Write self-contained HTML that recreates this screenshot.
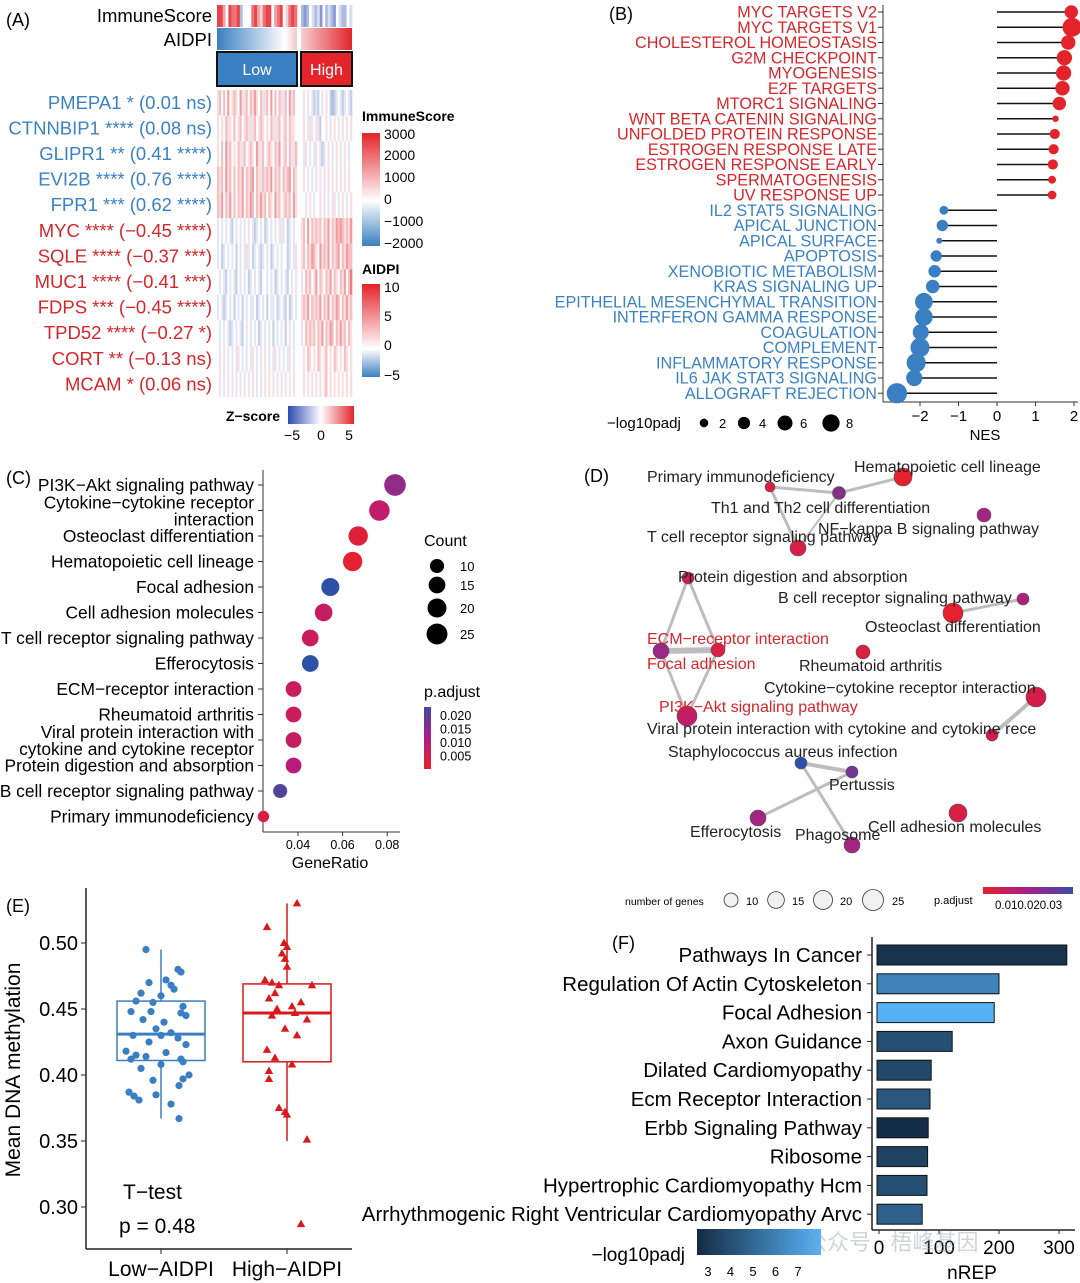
<!DOCTYPE html>
<html><head><meta charset="utf-8"><style>
html,body{margin:0;padding:0;background:#fff;}
svg{display:block;font-family:"Liberation Sans","Noto Sans CJK SC",sans-serif;}
</style></head><body>
<svg id="fig" width="1080" height="1283" viewBox="0 0 1080 1283" xmlns="http://www.w3.org/2000/svg">
<defs>
<linearGradient id="gAidpiLow" x1="0" x2="1"><stop offset="0" stop-color="#3a7fc1"/><stop offset="0.85" stop-color="#ffffff"/><stop offset="1" stop-color="#f2c6c6"/></linearGradient>
<linearGradient id="gAidpiHigh" x1="0" x2="1"><stop offset="0" stop-color="#f6d0d0"/><stop offset="1" stop-color="#e3242b"/></linearGradient>
<linearGradient id="gImm" x1="0" y1="1" x2="0" y2="0"><stop offset="0" stop-color="#3a7fc1"/><stop offset="0.4" stop-color="#ffffff"/><stop offset="1" stop-color="#e3242b"/></linearGradient>
<linearGradient id="gZ" x1="0" x2="1"><stop offset="0" stop-color="#2a4ab0"/><stop offset="0.5" stop-color="#ffffff"/><stop offset="1" stop-color="#e3242b"/></linearGradient>
<linearGradient id="gPadjC" x1="0" y1="0" x2="0" y2="1"><stop offset="0" stop-color="#3f4aa8"/><stop offset="0.45" stop-color="#a4208a"/><stop offset="1" stop-color="#e8202a"/></linearGradient>
<linearGradient id="gPadjD" x1="0" x2="1"><stop offset="0" stop-color="#e8202a"/><stop offset="0.5" stop-color="#a4208a"/><stop offset="1" stop-color="#3f4aa8"/></linearGradient>
<linearGradient id="gF" x1="0" x2="1"><stop offset="0" stop-color="#132b43"/><stop offset="1" stop-color="#56b1f7"/></linearGradient>
</defs>
</svg>
<script>
// ---------- Panel A data ----------
const genesA = ["PMEPA1 * (0.01 ns)","CTNNBIP1 **** (0.08 ns)","GLIPR1 ** (0.41 ****)","EVI2B **** (0.76 ****)","FPR1 *** (0.62 ****)","MYC **** (\u22120.45 ****)","SQLE **** (\u22120.37 ***)","MUC1 **** (\u22120.41 ***)","FDPS *** (\u22120.45 ****)","TPD52 **** (\u22120.27 *)","CORT ** (\u22120.13 ns)","MCAM * (0.06 ns)"];
const geneGroupA = [0,0,0,0,0,1,1,1,1,1,1,1];
const heatLow = ["564647456547356465754635647464653647564","545465546456456535645654546535645646554","546475645465364565475364565465745646356","656475646465746567465365657465646567465","657465746465746576465756465475645656475","343434324343434543234342343434353423434","342343434243435342343234342343434423435","434324343243434234343244343423434324343","343234342434243433423434243342343242343","434343234343243434342343434243434243434","434543434354343435434345434354343435434","454345434543454345434543454345434543454"];
const heatHigh = ["4345432324345421234323432","4543534352445434543454345","4354343543234543454345434","4543434543454345434543454","4434543445434543543454345","5647465656465746576765657","5646576547565746567465766","5465645746546574654657468","5657465657465746576465756","5465656465746576465756465","4546545465456454654546545","4545454545456454545454545"];
const immLow = "8864877824447865788467845787";
const immHigh = "2124323142321432243";
// ---------- Panel B data ----------
const pathwaysB = ["MYC TARGETS V2","MYC TARGETS V1","CHOLESTEROL HOMEOSTASIS","G2M CHECKPOINT","MYOGENESIS","E2F TARGETS","MTORC1 SIGNALING","WNT BETA CATENIN SIGNALING","UNFOLDED PROTEIN RESPONSE","ESTROGEN RESPONSE LATE","ESTROGEN RESPONSE EARLY","SPERMATOGENESIS","UV RESPONSE UP","IL2 STAT5 SIGNALING","APICAL JUNCTION","APICAL SURFACE","APOPTOSIS","XENOBIOTIC METABOLISM","KRAS SIGNALING UP","EPITHELIAL MESENCHYMAL TRANSITION","INTERFERON GAMMA RESPONSE","COAGULATION","COMPLEMENT","INFLAMMATORY RESPONSE","IL6 JAK STAT3 SIGNALING","ALLOGRAFT REJECTION"];
const nesB = [1.93,1.95,1.85,1.75,1.73,1.7,1.62,1.52,1.5,1.47,1.45,1.43,1.43,-1.38,-1.42,-1.5,-1.58,-1.62,-1.67,-1.9,-1.9,-1.98,-2.0,-2.1,-2.15,-2.6];
const padjB = [3.5,7,4,4.5,4.5,4,3.5,0.8,2,2,2,1.2,1.5,1.5,2.5,0.7,2.5,3,3.5,6,6,5,7,7,5,8];
const nesTicks = [-2,-1,0,1,2];
const legB = [2,4,6,8];
// ---------- Panel C data ----------
const termsC = ["PI3K\u2212Akt signaling pathway",["Cytokine\u2212cytokine receptor","interaction"],"Osteoclast differentiation","Hematopoietic cell lineage","Focal adhesion","Cell adhesion molecules","T cell receptor signaling pathway","Efferocytosis","ECM\u2212receptor interaction","Rheumatoid arthritis",["Viral protein interaction with","cytokine and cytokine receptor"],"Protein digestion and absorption","B cell receptor signaling pathway","Primary immunodeficiency"];
const ratioC = [0.0835,0.0765,0.067,0.0645,0.0545,0.0515,0.0455,0.0455,0.038,0.038,0.038,0.038,0.032,0.0245];
const countC = [27,24,21,21,18,17,15,15,13,13,13,13,10,6];
const padjC = [0.014,0.009,0.002,0.001,0.022,0.008,0.007,0.022,0.007,0.007,0.008,0.011,0.019,0.004];
const ratioTicks = [0.04,0.06,0.08];
const countLeg = [10,15,20,25];
const padjLegC = ["0.020","0.015","0.010","0.005"];
// ---------- Panel D data ----------
const nodesD = [
 ["Primary immunodeficiency",770,487,5,0.004],["Th1 and Th2 cell differentiation",839,493,6.5,0.02],["Hematopoietic cell lineage",903,477,9,0.001],
 ["T cell receptor signaling pathway",798,548,8,0.005],["NF\u2212kappa B signaling pathway",984,515,7,0.017],["Protein digestion and absorption",688,578,6,0.009],
 ["B cell receptor signaling pathway",1023,599,6,0.016],["Osteoclast differentiation",953,613,10,0.001],["ECM\u2212receptor interaction",718,650,7,0.005],
 ["Focal adhesion",661,651,8,0.018],["Rheumatoid arthritis",863,652,7,0.004],["PI3K\u2212Akt signaling pathway",687,716,10,0.012],
 ["Cytokine\u2212cytokine receptor interaction",1036,697,10,0.006],["Viral protein interaction",992,735,6,0.006],["Staphylococcus aureus infection",801,763,6,0.03],
 ["Pertussis",852,772,6,0.022],["Efferocytosis",758,818,8,0.017],["Phagosome",852,845,8,0.017],["Cell adhesion molecules",958,813,9,0.005]];
const edgesD = [[0,1,3],[0,3,3],[1,2,3],[1,3,2],[5,8,3],[5,9,3],[8,9,6],[9,11,3],[8,11,3],[6,7,3],[12,13,4],[14,15,4],[14,17,3],[15,16,3]];
const labelsD = [["Primary immunodeficiency",647,476,0],["Hematopoietic cell lineage",854,466,0],["Th1 and Th2 cell differentiation",711,507,0],["NF\u2212kappa B signaling pathway",818,528,0],["T cell receptor signaling pathway",647,536,0],["Protein digestion and absorption",678,576,0],["B cell receptor signaling pathway",778,597,0],["Osteoclast differentiation",865,626,0],["ECM\u2212receptor interaction",647,638,1],["Focal adhesion",647,663,1],["Rheumatoid arthritis",799,665,0],["Cytokine\u2212cytokine receptor interaction",764,687,0],["PI3K\u2212Akt signaling pathway",659,706,1],["Viral protein interaction with cytokine and cytokine rece",647,728,0],["Staphylococcus aureus infection",668,751,0],["Pertussis",829,784,0],["Efferocytosis",690,831,0],["Phagosome",795,834,0],["Cell adhesion molecules",868,826,0]];
const genesLegD = [10,15,20,25];
// ---------- Panel E data ----------
const lowVals = [0.495,0.480,0.478,0.470,0.472,0.468,0.462,0.460,0.465,0.456,0.455,0.452,0.448,0.448,0.447,0.445,0.442,0.440,0.435,0.432,0.430,0.430,0.428,0.425,0.423,0.418,0.415,0.414,0.417,0.412,0.412,0.410,0.408,0.405,0.400,0.397,0.396,0.392,0.387,0.384,0.385,0.381,0.378,0.367];
const lowJit = [-15,17,20,-12,5,10,-20,0,13,-25,-8,22,-30,-10,20,25,-18,3,-5,10,0,-28,17,-12,25,-35,-25,-15,5,20,-30,22,0,-20,28,22,-8,18,-32,-27,-5,-22,10,18];
const highVals = [0.530,0.512,0.500,0.497,0.492,0.488,0.482,0.472,0.470,0.468,0.468,0.462,0.458,0.455,0.452,0.450,0.445,0.447,0.442,0.435,0.430,0.419,0.413,0.408,0.403,0.397,0.375,0.372,0.370,0.351,0.287];
const highJit = [10,-20,-3,0,-5,-2,0,-22,-15,-8,25,-12,-18,14,5,-10,-15,8,20,-2,10,-20,-12,5,-18,-18,-8,-2,0,20,14];
const boxLow = [0.367,0.411,0.431,0.456,0.495];
const boxHigh = [0.350,0.410,0.447,0.469,0.530];
const yTicksE = [0.30,0.35,0.40,0.45,0.50];
// ---------- Panel F data ----------
const termsF = ["Pathways In Cancer","Regulation Of Actin Cytoskeleton","Focal Adhesion","Axon Guidance","Dilated Cardiomyopathy","Ecm Receptor Interaction","Erbb Signaling Pathway","Ribosome","Hypertrophic Cardiomyopathy Hcm","Arrhythmogenic Right Ventricular Cardiomyopathy Arvc"];
const nrepF = [313,200,192,122,87,85,82,81,80,72];
const logpF = [3.2,5.6,7.0,4.1,3.9,4.3,3.1,3.7,4.1,4.6];
const xTicksF = [0,100,200,300];
const legTicksF = [3,4,5,6,7];

// ---------- helpers ----------
const NS="http://www.w3.org/2000/svg";
const svg=document.getElementById('fig');
function mk(tag,attrs,parent,txt){const e=document.createElementNS(NS,tag);for(const k in attrs)e.setAttribute(k,attrs[k]);if(txt!==undefined)e.textContent=txt;(parent||svg).appendChild(e);return e;}
function grp(name){const g=mk('g',{});


return g;}
function hex(c){return [parseInt(c.slice(1,3),16),parseInt(c.slice(3,5),16),parseInt(c.slice(5,7),16)];}
function mix(a,b,t){const A=hex(a),B=hex(b);return 'rgb('+A.map((v,i)=>Math.round(v+(B[i]-v)*t)).join(',')+')';}
function zcol(d){const z=(d-4)/4;return z>=0?mix('#ffffff','#e3242b',z*0.85):mix('#ffffff','#2a4ab0',-z*0.75);}
function hcol(d){const z=(d-4)/4;return z>=0?mix('#ffffff','#e3242b',z*0.6):mix('#ffffff','#3050b0',-z*0.55);}
function padjCol(p){const t=Math.min(1,p/0.022);return t<0.5?mix('#e8202a','#b81c78',t*2):mix('#b81c78','#2c52a8',(t-0.5)*2);}
const RED='#d7262b',BLUE='#3b82c4';

// ================= Panel A =================
(function(){
const g=grp('panel-a-heatmap');
const t=mk('text',{x:6,y:26,'font-size':18},g,'(A)');

mk('text',{x:212,y:22,'font-size':18.5,'text-anchor':'end'},g,'ImmuneScore');
mk('text',{x:212,y:46,'font-size':18.5,'text-anchor':'end'},g,'AIDPI');
const L0=217,L1=297,H0=301,H1=352;
function strip(str,x0,x1,y,h,fn,name){const w=(x1-x0)/str.length;for(let i=0;i<str.length;i++){const r=mk('rect',{x:x0+i*w,y:y,width:w+0.3,height:h,fill:fn(+str[i])},g);

}}
strip(immLow,L0,L1,5,22,zcol,'immunescore-cell');
strip(immHigh,H0,H1,5,22,zcol,'immunescore-cell');
mk('rect',{x:L0,y:28,width:L1-L0,height:22,fill:'url(#gAidpiLow)'},g);
mk('rect',{x:H0,y:28,width:H1-H0,height:22,fill:'url(#gAidpiHigh)'},g);
const bl=mk('rect',{x:L0,y:52,width:L1-L0,height:34,fill:'#3a7fc1',stroke:'#111','stroke-width':2},g);

const bh=mk('rect',{x:H0,y:52,width:H1-H0,height:34,fill:'#e3242b',stroke:'#111','stroke-width':2},g);

mk('text',{x:(L0+L1)/2,y:75,'font-size':16,fill:'#fff','text-anchor':'middle'},g,'Low');
mk('text',{x:(H0+H1)/2,y:75,'font-size':16,fill:'#fff','text-anchor':'middle'},g,'High');
const top=90,rh=25.6;
genesA.forEach((gn,i)=>{
 strip(heatLow[i],L0,L1,top+i*rh,rh,hcol,'heatmap-cell');
 strip(heatHigh[i],H0,H1,top+i*rh,rh,hcol,'heatmap-cell');
 const lt=mk('text',{x:212,y:top+i*rh+rh/2+6,'font-size':18.5,'text-anchor':'end',fill:geneGroupA[i]?RED:BLUE},g,gn);
 
});
mk('text',{x:362,y:121,'font-size':14,'font-weight':'bold'},g,'ImmuneScore');
mk('rect',{x:362,y:133,width:18,height:113,fill:'url(#gImm)'},g);
[['3000',134],['2000',155],['1000',177],['0',199],['\u22121000',221],['\u22122000',243]].forEach(a=>mk('text',{x:384,y:a[1]+5,'font-size':14},g,a[0]));
mk('text',{x:362,y:274,'font-size':14,'font-weight':'bold'},g,'AIDPI');
const ag=mk('linearGradient',{id:'gA2',x1:0,y1:1,x2:0,y2:0},svg.querySelector('defs'));
mk('stop',{offset:0,'stop-color':'#3a7fc1'},ag);mk('stop',{offset:0.3,'stop-color':'#ffffff'},ag);mk('stop',{offset:1,'stop-color':'#e3242b'},ag);
mk('rect',{x:362,y:284,width:18,height:93,fill:'url(#gA2)'},g);
[['10',287],['5',316],['0',345],['\u22125',375]].forEach(a=>mk('text',{x:384,y:a[1]+5,'font-size':14},g,a[0]));
mk('text',{x:280,y:421,'font-size':14,'font-weight':'bold','text-anchor':'end'},g,'Z\u2212score');
mk('rect',{x:288,y:406,width:66,height:18,fill:'url(#gZ)'},g);
[['\u22125',292],['0',321],['5',349]].forEach(a=>mk('text',{x:a[1],y:440,'font-size':14,'text-anchor':'middle'},g,a[0]));
})();

// ================= Panel B =================
(function(){
const g=grp('panel-b-lollipop');
mk('text',{x:609,y:20,'font-size':18},g,'(B)');
const x=v=>997+v*38.5, y0=12, dy=15.25;
const y=i=>y0+i*dy;
mk('line',{x1:883,y1:5,x2:883,y2:402,stroke:'#333'},g);
mk('line',{x1:883,y1:402,x2:1078,y2:402,stroke:'#333'},g);
pathwaysB.forEach((p,i)=>{
 const c=i<13?RED:BLUE;
 const lt=mk('text',{x:877,y:y(i)+5.5,'font-size':16.2,'text-anchor':'end',fill:c},g,p);
 
 mk('line',{x1:878,x2:883,y1:y(i),y2:y(i),stroke:'#333'},g);
 const ln=mk('line',{x1:x(0),x2:x(nesB[i]),y1:y(i),y2:y(i),stroke:'#111','stroke-width':1.5},g);
 
 const d=mk('circle',{cx:x(nesB[i]),cy:y(i),r:3.6*Math.sqrt(padjB[i]),fill:c==RED?'#e3242b':'#3a7fc1'},g);
 
});
nesTicks.forEach(t=>{mk('line',{x1:x(t),x2:x(t),y1:402,y2:406,stroke:'#333'},g);mk('text',{x:x(t),y:421,'font-size':15,'text-anchor':'middle'},g,t<0?'\u2212'+(-t):t);});
mk('text',{x:985,y:440,'font-size':15,'text-anchor':'middle'},g,'NES');
mk('text',{x:607,y:428,'font-size':15},g,'\u2212log10padj');
const lx=[704,744,785,831];
legB.forEach((v,i)=>{mk('circle',{cx:lx[i],cy:423,r:3.6*Math.sqrt(v)*0.85,fill:'#000'},g);mk('text',{x:lx[i]+15,y:428,'font-size':13},g,v);});
})();

// ================= Panel C =================
(function(){
const g=grp('panel-c-dotplot');
mk('text',{x:6,y:484,'font-size':18},g,'(C)');
const x=v=>298+(v-0.04)*2230, y=i=>485+i*25.5;
mk('line',{x1:263,y1:470,x2:263,y2:832,stroke:'#333'},g);
mk('line',{x1:263,y1:832,x2:400,y2:832,stroke:'#333'},g);
termsC.forEach((t,i)=>{
 mk('line',{x1:258,x2:263,y1:y(i),y2:y(i),stroke:'#333'},g);
 if(Array.isArray(t)){mk('text',{x:254,y:y(i)-2,'font-size':17.4,'text-anchor':'end'},g,t[0]);mk('text',{x:254,y:y(i)+15,'font-size':17.4,'text-anchor':'end'},g,t[1]);}
 else{const lt=mk('text',{x:254,y:y(i)+6,'font-size':17.4,'text-anchor':'end'},g,t);
 }
 const d=mk('circle',{cx:x(ratioC[i]),cy:y(i),r:1.2+1.85*Math.sqrt(countC[i]),fill:padjCol(padjC[i])},g);
 
});
ratioTicks.forEach(t=>{mk('line',{x1:x(t),x2:x(t),y1:832,y2:836,stroke:'#333'},g);mk('text',{x:x(t),y:849,'font-size':12.5,'text-anchor':'middle'},g,t.toFixed(2));});
mk('text',{x:330,y:868,'font-size':16,'text-anchor':'middle'},g,'GeneRatio');
mk('text',{x:424,y:546,'font-size':16},g,'Count');
const ly=[566,585,608,634];
countLeg.forEach((c,i)=>{mk('circle',{cx:437,cy:ly[i],r:1.2+1.85*Math.sqrt(c),fill:'#000'},g);mk('text',{x:460,y:ly[i]+5,'font-size':13},g,c);});
mk('text',{x:424,y:697,'font-size':16},g,'p.adjust');
mk('rect',{x:424,y:707,width:7,height:62,fill:'url(#gPadjC)'},g);
padjLegC.forEach((p,i)=>mk('text',{x:440,y:720+i*13.5,'font-size':12.5},g,p));
})();

// ================= Panel D =================
(function(){
const g=grp('panel-d-network');
mk('text',{x:584,y:482,'font-size':18},g,'(D)');
edgesD.forEach(e=>{const a=nodesD[e[0]],b=nodesD[e[1]];const l=mk('line',{x1:a[1],y1:a[2],x2:b[1],y2:b[2],stroke:'#bdbdbd','stroke-width':e[2]},g);
});
nodesD.forEach(n=>{const c=mk('circle',{cx:n[1],cy:n[2],r:n[3],fill:padjCol(n[4]*0.75),stroke:'#555','stroke-width':0.6},g);
});
labelsD.forEach(l=>{const t=mk('text',{x:l[1],y:l[2]+6,'font-size':16,fill:l[3]?RED:'#222'},g,l[0]);
});
mk('rect',{x:1056,y:715,width:30,height:25,fill:'#fff'},g);
mk('text',{x:625,y:905,'font-size':10.5},g,'number of genes');
const cx=[731,776,823,873],lx=[746,792,840,892];
genesLegD.forEach((v,i)=>{mk('circle',{cx:cx[i],cy:900,r:1+1.9*Math.sqrt(v),fill:'#f0f0f0',stroke:'#333','stroke-width':0.8},g);mk('text',{x:lx[i],y:905,'font-size':11},g,v);});
mk('text',{x:934,y:904,'font-size':11},g,'p.adjust');
mk('rect',{x:983,y:887,width:90,height:7,fill:'url(#gPadjD)'},g);
mk('text',{x:995,y:909,'font-size':11.5},g,'0.010.020.03');
})();

// ================= Panel E =================
(function(){
const g=grp('panel-e-boxplot');
mk('text',{x:6,y:912,'font-size':18},g,'(E)');
const y=v=>943+(0.50-v)*1320;
mk('line',{x1:86,y1:888,x2:86,y2:1249,stroke:'#222','stroke-width':1.5},g);
mk('line',{x1:86,y1:1249,x2:352,y2:1249,stroke:'#222','stroke-width':1.5},g);
yTicksE.forEach(t=>{mk('line',{x1:81,x2:86,y1:y(t),y2:y(t),stroke:'#222'},g);mk('text',{x:78,y:y(t)+7,'font-size':20,'text-anchor':'end'},g,t.toFixed(2));});
const yt=mk('text',{x:20,y:1070,'font-size':21,'text-anchor':'middle',transform:'rotate(-90 20 1070)'},g,'Mean DNA methylation');

function box(b,cx,col,name){
 const bg=grp(name);g.appendChild(bg);
 mk('line',{x1:cx,x2:cx,y1:y(b[4]),y2:y(b[3]),stroke:col,'stroke-width':1.5},bg);
 mk('line',{x1:cx,x2:cx,y1:y(b[1]),y2:y(b[0]),stroke:col,'stroke-width':1.5},bg);
 mk('rect',{x:cx-44,y:y(b[3]),width:88,height:y(b[1])-y(b[3]),fill:'none',stroke:col,'stroke-width':1.5},bg);
 mk('line',{x1:cx-44,x2:cx+44,y1:y(b[2]),y2:y(b[2]),stroke:col,'stroke-width':3},bg);
}
box(boxLow,161,'#3a7fc1','box-low');
box(boxHigh,287,'#d7191c','box-high');
lowVals.forEach((v,i)=>{const c=mk('circle',{cx:161+lowJit[i],cy:y(v),r:3.6,fill:'#3a7fc1'},g);
});
highVals.forEach((v,i)=>{const X=287+highJit[i],Y=y(v);const p=mk('polygon',{points:`${X},${Y-4.5} ${X-4.2},${Y+3} ${X+4.2},${Y+3}`,fill:'#d7191c'},g);
});
mk('line',{x1:161,x2:161,y1:1249,y2:1254,stroke:'#222'},g);mk('line',{x1:287,x2:287,y1:1249,y2:1254,stroke:'#222'},g);
mk('text',{x:161,y:1276,'font-size':21,'text-anchor':'middle'},g,'Low\u2212AIDPI');
mk('text',{x:287,y:1276,'font-size':21,'text-anchor':'middle'},g,'High\u2212AIDPI');
mk('text',{x:123,y:1199,'font-size':21},g,'T\u2212test');
mk('text',{x:119,y:1233,'font-size':21},g,'p = 0.48');
})();

// ================= Panel F =================
(function(){
const g=grp('panel-f-barplot');
mk('text',{x:612,y:949,'font-size':18},g,'(F)');
const x=v=>879+v*0.6, y=i=>955+i*28.8;
mk('line',{x1:872,y1:937,x2:872,y2:1230,stroke:'#222','stroke-width':1.5},g);
mk('line',{x1:872,y1:1230,x2:1075,y2:1230,stroke:'#222','stroke-width':1.5},g);
termsF.forEach((t,i)=>{
 mk('line',{x1:867,x2:872,y1:y(i),y2:y(i),stroke:'#222'},g);
 const lt=mk('text',{x:862,y:y(i)+7,'font-size':20.5,'text-anchor':'end'},g,t);
 
 const tcol=(logpF[i]-3)/4;
 const b=mk('rect',{x:x(0)-2,y:y(i)-10,width:x(nrepF[i])-x(0)+2,height:20,fill:mix('#132b43','#56b1f7',tcol),stroke:'#111','stroke-width':1},g);
 
});
xTicksF.forEach(t=>{mk('line',{x1:x(t),x2:x(t),y1:1230,y2:1234,stroke:'#222'},g);mk('text',{x:x(t),y:1254,'font-size':19,'text-anchor':'middle'},g,t);});
mk('text',{x:972,y:1279,'font-size':19,'text-anchor':'middle'},g,'nREP');
mk('text',{x:685,y:1261,'font-size':19,'text-anchor':'end'},g,'\u2212log10padj');
mk('rect',{x:697,y:1229,width:124,height:26,fill:'url(#gF)'},g);
legTicksF.forEach((t,i)=>mk('text',{x:708+i*22.5,y:1276,'font-size':13,'text-anchor':'middle'},g,t));
const w=mk('text',{x:805,y:1250,'font-size':22,fill:'#9aa0a6','fill-opacity':0.45},g,'公众号 · 梧峰基因');

})();
</script>
</body></html>
